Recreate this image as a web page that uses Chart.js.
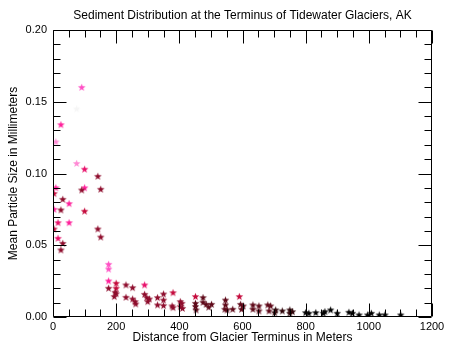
<!DOCTYPE html>
<html>
<head>
<meta charset="utf-8">
<script src="https://cdn.jsdelivr.net/npm/chart.js@4/dist/chart.umd.min.js"></script>
<style>
html,body{margin:0;padding:0;background:#fff;}
#wrap{width:452px;height:355px;}
</style>
</head>
<body>
<div id="wrap"><canvas id="c" width="452" height="355"></canvas></div>
<script>
// ---- data ----
const distances = [91,75,25,9,75,100,142,9,100,91,151,3,31,51,3,25,100,16,51,3,142,151,16,31,25,
  176,176,176,176,200,200,197,200,194,231,252,231,252,260,262,290,290,297,300,305,331,331,350,350,350,
  380,377,380,403,408,403,410,451,451,451,453,475,475,485,493,502,546,546,551,544,569,590,594,602,597,
  633,633,652,652,680,689,684,705,702,726,750,758,750,800,810,832,856,861,879,900,937,948,969,996,1008,
  1033,1051,1101];
const sizes = [0.160,0.145,0.134,0.122,0.107,0.103,0.098,0.090,0.090,0.0885,0.089,0.086,0.082,0.079,0.075,
  0.0746,0.0737,0.0657,0.0657,0.0613,0.0613,0.0557,0.0548,0.0513,0.0467,
  0.0367,0.0334,0.0251,0.0200,0.0235,0.0200,0.0172,0.0162,0.0142,0.0223,0.0204,0.0137,0.0125,0.0107,0.0091,
  0.0223,0.0158,0.0135,0.0107,0.0125,0.0135,0.0084,0.0160,0.0118,0.0079,
  0.0169,0.0077,0.0065,0.0107,0.0095,0.0072,0.0060,0.0142,0.0095,0.0072,0.0049,0.0135,0.0102,0.0088,0.0068,
  0.0088,0.0118,0.0084,0.0049,0.0054,0.0054,0.0142,0.0088,0.0077,0.0054,
  0.0084,0.0054,0.0077,0.0042,0.0084,0.0077,0.0042,0.0049,0.0030,0.0042,0.0049,0.0037,0.0026,0.0030,0.0026,
  0.0030,0.0026,0.0037,0.0049,0.0026,0.0033,0.0026,0.0014,0.0014,0.0026,
  0.0014,0.0014,0.0014];
// colour level of each star (index into palette)
const shades = [2,0,3,1,1,4,6,3,3,6,6,5,6,3,3,6,5,4,3,5,6,6,4,6,6,
  2,2,3,6,5,5,6,6,6,6,6,6,6,6,6,4,6,6,6,6,6,6,6,6,6,
  5,6,6,6,6,6,6,5,7,7,7,7,7,7,7,7,7,7,7,7,7,5,7,7,7,
  7,7,7,7,7,7,7,8,8,8,8,8,8,9,9,9,9,9,9,9,9,9,9,9,9,
  9,9,9];
const palette = ['#f5f5f5','#ff88d4','#ff4fc4','#ff1f9a','#e8106a','#c40a3c','#8e0c2c','#5e0818','#2e0408','#000000'];
const xTickLabels = ['0','200','400','600','800','1000','1200'];
const yTickLabels = ['0.00','0.05','0.10','0.15','0.20'];

// ---- star markers ----
const starCache = {};
function starCanvas(color){
  if (starCache[color]) return starCache[color];
  const c = document.createElement('canvas');
  c.width = 9; c.height = 9;
  const g = c.getContext('2d');
  const cx = 4.5, cy = 4.7, R = 4.0, r = 1.65;
  g.beginPath();
  for (let i = 0; i < 10; i++) {
    const ang = -Math.PI/2 + i*Math.PI/5;
    const rad = i % 2 === 0 ? R : r;
    const px = cx + rad*Math.cos(ang), py = cy + rad*Math.sin(ang);
    if (i === 0) g.moveTo(px, py); else g.lineTo(px, py);
  }
  g.closePath();
  g.fillStyle = color;
  g.fill();
  starCache[color] = c;
  return c;
}

const points = distances.map((d,i) => ({x:d, y:sizes[i]}));
const colors = shades.map(s => palette[s]);

// ---- inward ticks on all four sides + box ----
const frame = {
  id: 'frame',
  afterDraw(chart){
    const {ctx, chartArea:a, scales:{x, y}} = chart;
    ctx.save();
    ctx.strokeStyle = '#000';
    ctx.lineWidth = 1;
    const L = Math.round(a.left)+0.5, R = Math.round(a.right)-0.5, T = Math.round(a.top)+0.5, B = Math.round(a.bottom)-0.5;
    ctx.beginPath();
    ctx.rect(L, T, R-L, B-T);
    ctx.stroke();
    ctx.beginPath();
    for (let v = 0; v <= 1200 + 1e-6; v += 50) {
      const px = Math.round(x.getPixelForValue(v)) + 0.5;
      const len = (Math.abs(v/200 - Math.round(v/200)) < 1e-6) ? 13 : 7;
      ctx.moveTo(px, B); ctx.lineTo(px, B-len);
      ctx.moveTo(px, T); ctx.lineTo(px, T+len);
    }
    for (let k = 0; k <= 20; k++) {
      const v = k*0.01;
      const py = Math.round(y.getPixelForValue(v)) + 0.5;
      const len = (k % 5 === 0) ? 13 : 7;
      ctx.moveTo(L, py); ctx.lineTo(L+len, py);
      ctx.moveTo(R, py); ctx.lineTo(R-len, py);
    }
    ctx.stroke();
    ctx.restore();
  }
};

const tickFont = {family:'"Liberation Sans", Arial, sans-serif', size:11, weight:'normal'};
const titleFont = {family:'"Liberation Sans", Arial, sans-serif', size:12, weight:'normal'};

new Chart(document.getElementById('c'), {
  type: 'scatter',
  data: {
    datasets: [{
      data: points,
      pointBackgroundColor: colors,
      pointStyle: (ctx) => starCanvas(colors[ctx.dataIndex] || '#000'),
      pointRadius: 4,
      pointHoverRadius: 4
    }]
  },
  plugins: [frame],
  options: {
    responsive: false,
    animation: false,
    events: [],
    layout: {padding: {left: 0, right: 20, top: 0, bottom: 0}},
    plugins: {
      legend: {display: false},
      tooltip: {enabled: false},
      title: {
        display: true,
        fullSize: false,
        text: 'Sediment Distribution at the Terminus of Tidewater Glaciers, AK',
        color: '#000',
        font: titleFont,
        padding: {top: 8, bottom: 7.6}
      }
    },
    scales: {
      x: {
        type: 'linear',
        min: 0, max: 1200,
        afterFit: (s) => { s.height = 38; },
        grid: {display: false, drawTicks: false},
        border: {display: false},
        ticks: {
          stepSize: 200,
          color: '#000',
          font: tickFont,
          padding: 3,
          maxRotation: 0,
          callback: (v, i) => xTickLabels[i]
        },
        title: {
          display: true,
          text: 'Distance from Glacier Terminus in Meters',
          color: '#000',
          font: titleFont,
          padding: {top: 0, bottom: 10}
        }
      },
      y: {
        type: 'linear',
        min: 0, max: 0.2,
        afterFit: (s) => { s.width = 53; },
        grid: {display: false, drawTicks: false},
        border: {display: false},
        ticks: {
          stepSize: 0.05,
          color: '#000',
          font: tickFont,
          padding: 6,
          callback: (v, i) => yTickLabels[i]
        },
        title: {
          display: true,
          text: 'Mean Particle Size in Millimeters',
          color: '#000',
          font: titleFont,
          padding: {top: 6, bottom: 0}
        }
      }
    }
  }
});
</script>
</body>
</html>
